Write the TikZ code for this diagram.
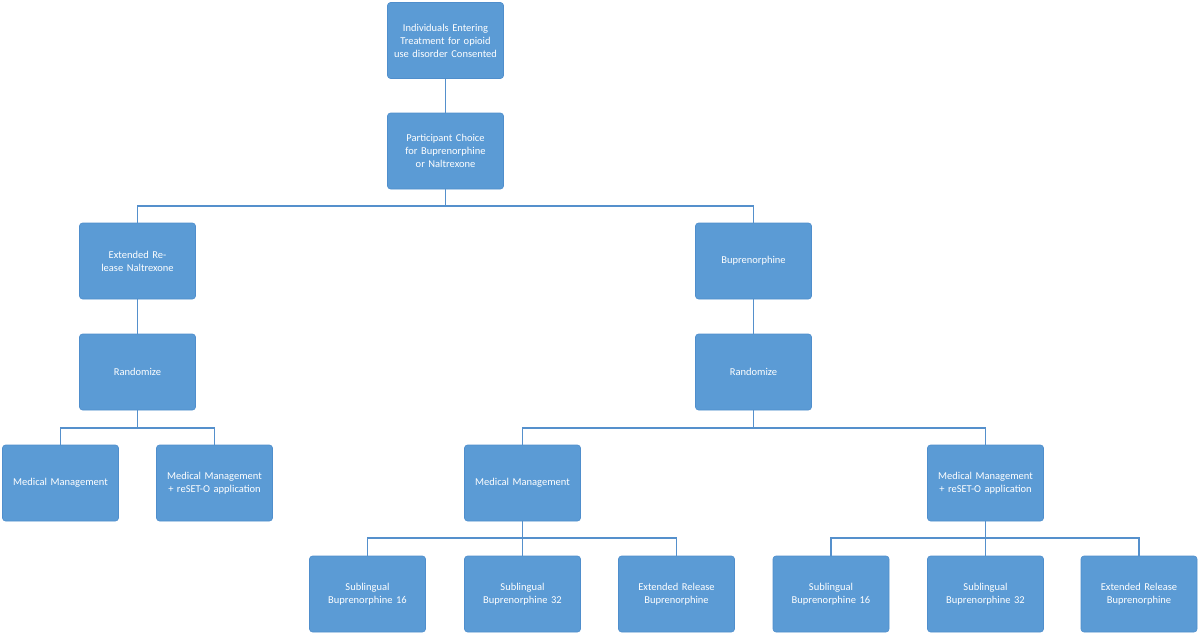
\documentclass[tikz,border=0pt]{standalone}
\usepackage{fontspec}
\setmainfont{Carlito}
\begin{document}
\begin{tikzpicture}[x=1pt,y=-1pt,
  bx/.style={draw=#1,fill=boxblue,rounded corners=3pt,minimum width=116pt,minimum height=76pt,text width=108pt,align=center,text=white,font=\fontsize{10.5}{13}\selectfont,line width=0.6pt},
  bx/.default=boxedge,
  ln/.style={draw=lineblue,line width=1.6pt}]
\definecolor{boxblue}{HTML}{5B9BD5}
\definecolor{boxedge}{HTML}{4F8ECC}
\definecolor{lineblue}{HTML}{5590CC}
\useasboundingbox (0,0) rectangle (1200,634);
\node[bx] (top) at (445.5,40.5) {Individuals Entering Treatment for opioid use disorder Consented};
\node[bx] (ch) at (445.5,151) {Participant Choice for Buprenorphine or Naltrexone};
\node[bx] (ern) at (137.5,261) {Extended Release Naltrexone};
\node[bx] (bup) at (753.5,261) {Buprenorphine};
\node[bx] (r1) at (137.5,372) {Randomize};
\node[bx] (r2) at (753.5,372) {Randomize};
\node[bx] (m1) at (60.5,483) {Medical Management};
\node[bx] (m2) at (214.5,483) {Medical Management + reSET-O application};
\node[bx] (m3) at (522.5,483) {Medical Management};
\node[bx] (m4) at (985.5,483) {Medical Management + reSET-O application};
\node[bx] (a1) at (367.5,594) {Sublingual Buprenorphine 16};
\node[bx] (a2) at (522.5,594) {Sublingual Buprenorphine 32};
\node[bx] (a3) at (676.5,594) {Extended Release Buprenorphine};
\node[bx] (b1) at (831,594) {Sublingual Buprenorphine 16};
\node[bx] (b2) at (985.5,594) {Sublingual Buprenorphine 32};
\node[bx] (b3) at (1139,594) {Extended Release Buprenorphine};
\draw[ln] (top.south) -- (ch.north);
\draw[ln] (ern.south) -- (r1.north);
\draw[ln] (bup.south) -- (r2.north);
\foreach \p/\c/\y in {ch/ern/206, ch/bup/206, r1/m1/428, r1/m2/428, r2/m3/428, r2/m4/428, m3/a1/538, m3/a2/538, m3/a3/538, m4/b1/538, m4/b2/538, m4/b3/538}
  \draw[ln] (\p.south) |- (\c.north |- 0,\y) -- (\c.north);
\end{tikzpicture}
\end{document}
